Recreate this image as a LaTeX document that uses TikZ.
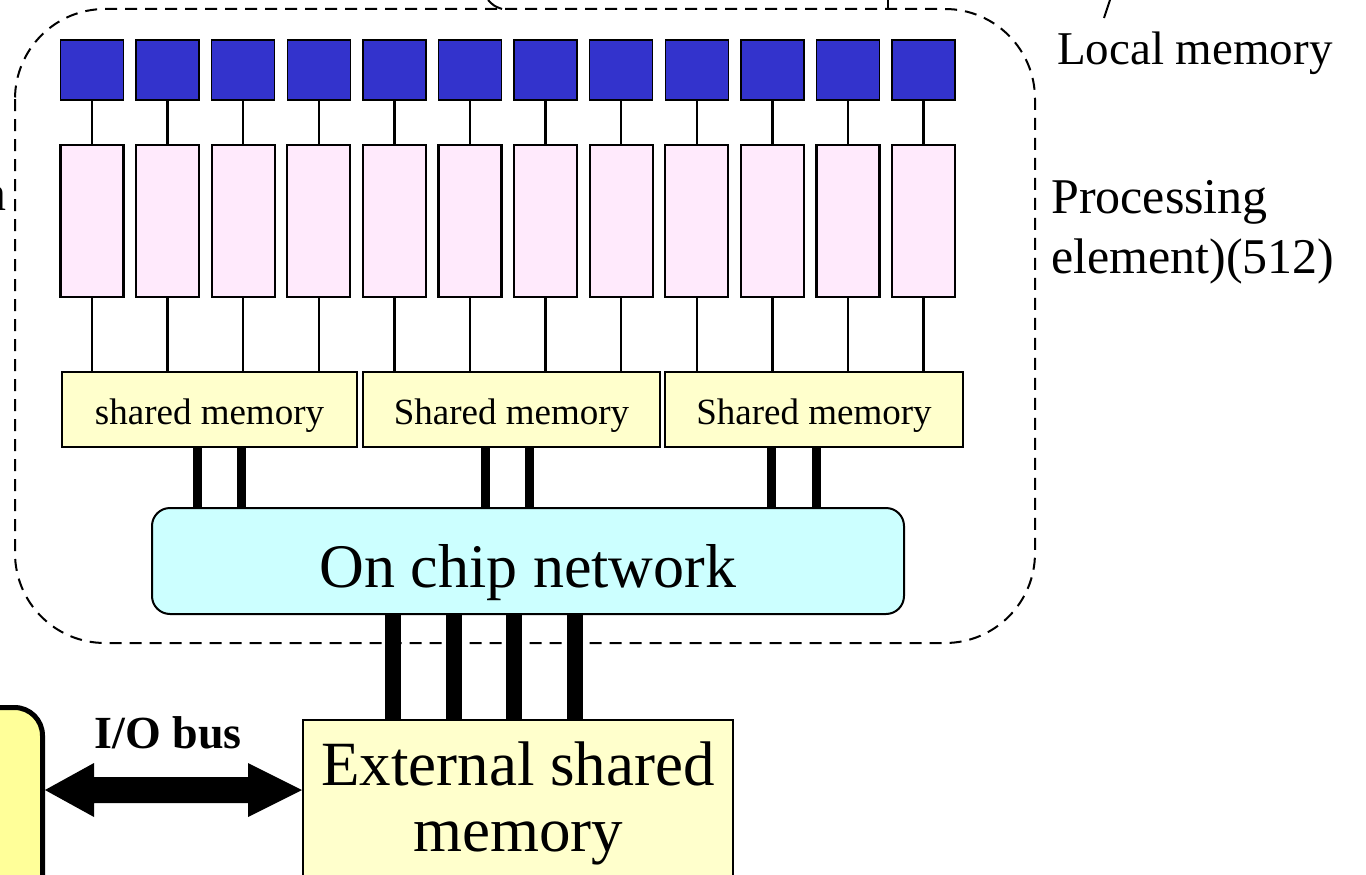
\documentclass[tikz,border=0pt]{standalone}
\usepackage{fontspec}
\setmainfont{Liberation Serif}
\usetikzlibrary{calc}
\begin{document}
\begin{tikzpicture}[x=1pt,y=-1pt,
  lmbox/.style={draw=black, line width=1.5, fill=lmblue, minimum width=63, minimum height=60, inner sep=0},
  pebox/.style={draw=black, line width=2.2, fill=pepink, minimum width=63, minimum height=152, inner sep=0},
  smbox/.style={draw=black, line width=2, fill=memyellow, minimum height=75, inner sep=0,
                text height=37pt, text depth=8pt, font=\fontsize{37}{44}\selectfont},
  thin link/.style={line width=2.5},
  bus link/.style={line width=9},
  wide link/.style={line width=16},
  label text/.style={inner sep=0, font=\fontsize{50}{60}\selectfont, align=left}]
\definecolor{lmblue}{HTML}{3333CC}
\definecolor{pepink}{HTML}{FFEAFC}
\definecolor{memyellow}{HTML}{FFFFCC}
\definecolor{netcyan}{HTML}{CCFFFF}
\definecolor{hostyellow}{HTML}{FFFF99}
\useasboundingbox (0,0) rectangle (1366,875);

% chip boundary
\draw[line width=2, dash pattern=on 12 off 8, rounded corners=90] (15,9) rectangle (1035,643);

% fragments of the callout above the chip
\draw[line width=2] (488,0) .. controls (494,6) .. (502,9);
\draw[line width=2] (888,0) -- (888,9) -- (896,9);
\draw[line width=2] (1110,0) -- (1104,18);

% local memories and processing elements
\foreach \i in {1,...,12} {
  \pgfmathsetmacro{\cx}{92+75.6*(\i-1)}
  \node[lmbox] (lm\i) at (\cx,70) {};
  \node[pebox] (pe\i) at (\cx,221) {};
  \draw[thin link] (lm\i.south) -- (pe\i.north);
}

% shared memories
\node[smbox, minimum width=295] (sm1) at (209.5,409.5) {shared memory};
\node[smbox, minimum width=297] (sm2) at (511.5,409.5) {Shared memory};
\node[smbox, minimum width=298] (sm3) at (814,409.5) {Shared memory};

\foreach \i in {1,...,4}  { \draw[thin link] (pe\i.south) -- (pe\i.south |- sm1.north); }
\foreach \i in {5,...,8}  { \draw[thin link] (pe\i.south) -- (pe\i.south |- sm2.north); }
\foreach \i in {9,...,12} { \draw[thin link] (pe\i.south) -- (pe\i.south |- sm3.north); }

% on chip network
\node[draw=black, line width=2, fill=netcyan, rounded corners=18, minimum width=752, minimum height=106, inner sep=0,
      text height=64pt, text depth=12pt, font=\fontsize{62}{70}\selectfont] (net) at (528,561) {On chip network};

\foreach \x/\s in {197/sm1,241/sm1,485/sm2,529/sm2,771/sm3,816/sm3} {
  \draw[bus link] (\s.south -| \x,0) -- (net.north -| \x,0);
}

% external shared memory
\node[draw=black, line width=2, fill=memyellow, minimum width=430, minimum height=211, inner sep=0, anchor=north] (ext) at (518,719) {};
\node[inner sep=0, align=center, font=\fontsize{63}{66}\selectfont, anchor=north] (exttext) at ($(ext.north)+(0,23)$) {External shared\\memory};

\foreach \x in {393,454,514,575} {
  \draw[wide link] (net.south -| \x,0) -- (ext.north -| \x,0);
}

% host side box
\node[draw=black, line width=5, fill=hostyellow, rounded corners=28, minimum width=100, minimum height=220, inner sep=0, anchor=north east] (host) at (45,705) {};

% I/O bus arrow
\coordinate (busL) at (host.east |- 0,790);
\coordinate (busR) at (ext.west |- 0,790);
\fill (busL) -- ++(49,-27) -- ++(0,14) -- ($(busR)+(-54,-13)$) -- ++(0,-14) -- (busR) -- ++(-54,27) -- ++(0,-14) -- ($(busL)+(49,13)$) -- ++(0,14) -- cycle;
\node[inner sep=0, font=\bfseries\fontsize{46}{50}\selectfont, anchor=base] (buslabel) at (168,748) {I/O bus};

% side labels
\node[label text, font=\fontsize{47}{56}\selectfont, anchor=base west] (lmlabel) at (1057,65) {Local memory};
\node[label text, anchor=base west] (pelabel1) at (1051,213) {Processing};
\node[label text, anchor=base west] (pelabel2) at (1051,273) {element)(512)};
\node[label text, anchor=base east] (leftfrag) at (7,210) {n};
\end{tikzpicture}
\end{document}
